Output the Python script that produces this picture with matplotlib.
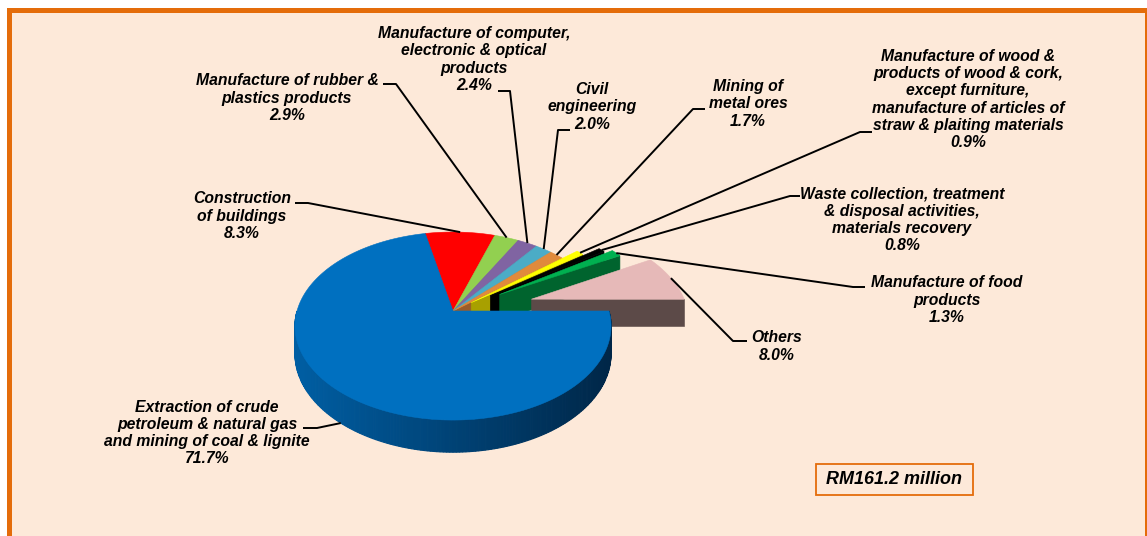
import numpy as np
import matplotlib
matplotlib.use('Agg')
import matplotlib.pyplot as plt
from matplotlib.patches import Polygon, Rectangle

plt.rcParams['font.family'] = ['Liberation Sans', 'DejaVu Sans']

# data (share of total, %)
labels = [
    'Extraction of crude\npetroleum & natural gas\nand mining of coal & lignite',
    'Construction\nof buildings',
    'Manufacture of rubber &\nplastics products',
    'Manufacture of computer,\nelectronic & optical\nproducts',
    'Civil\nengineering',
    'Mining of\nmetal ores',
    'Manufacture of wood &\nproducts of wood & cork,\nexcept furniture,\nmanufacture of articles of\nstraw & plaiting materials',
    'Waste collection, treatment\n& disposal activities,\nmaterials recovery',
    'Manufacture of food\nproducts',
    'Others',
]
shares = [71.7, 8.3, 2.9, 2.4, 2.0, 1.7, 0.9, 0.8, 1.3, 8.0]
total_text = 'RM161.2 million'

top_colors = ['#0070C0', '#FF0000', '#92D050', '#8064A2', '#4BACC6', '#E08A3C',
              '#FFFF00', '#000000', '#00B050', '#E6B9B8']
side_colors = ['#00406F', '#A00000', '#5E8A30', '#4F3D66', '#2E6F80', '#9A5C2A',
               '#A8A000', '#000000', '#00642E', '#5C4A48']
explode = [0, 0, 0, 0, 0, 0, 0.15, 0.30, 0.36, 0.53]

# label layout: text centre, text end point, elbow point
label_pos = [(207, 433), (242, 216), (287, 98), (474, 59.5), (592, 107),
             (748, 104), (968, 99.5), (902, 220), (947, 300), (777, 346.5)]
text_end = [(303, 428), (295, 203), (383, 84), (498, 91), (570, 130),
            (705, 109), (872, 132), (800, 196), (865, 287), (747, 341)]
elbows = [(317, 428), (308, 203), (396, 84), (510, 91), (558, 130),
          (693, 109), (860, 132), (790, 196), (853, 287), (733, 341)]

W, H = 1147, 536
BG = '#FDE9D9'
ORANGE = '#E46C0A'

# pie projection (pixels)
cx, cy = 453, 311
sx, sy = 156, 91.6
persp = 0.16
depth = 27


def proj(u, v, z=0.0):
    w = 1 + persp * v
    return cx + sx * u / w, cy - sy * v / w + depth * z / w


def side_color(x):
    # blue side gets darker from left to right
    t = np.clip((x - 295) / 316, 0, 1)
    c0 = np.array([0.0, 0.37, 0.64])
    c1 = np.array([0.0, 0.15, 0.28])
    return tuple(c0 + (c1 - c0) * t)


fig = plt.figure(figsize=(W / 100, H / 100), dpi=100)
fig.patch.set_facecolor('white')
ax = fig.add_axes([0, 0, 1, 1])
ax.set_xlim(0, W)
ax.set_ylim(H, 0)
ax.axis('off')

ax.add_patch(Rectangle((8.5, 9.5), 1138, 600, fc=BG, ec=ORANGE, lw=3.6, zorder=0))

# slice angles (counter-clockwise degrees), first slice ends at 0 going clockwise
cum = np.cumsum([0] + shares)
slices = []
for i in range(len(shares)):
    a2 = 360 - cum[i] * 3.6
    a1 = 360 - cum[i + 1] * 3.6
    slices.append((a1, a2))

order = sorted(range(len(shares)),
               key=lambda i: -np.sin(np.radians((slices[i][0] + slices[i][1]) / 2)))

anchors = {}
for i in order:
    a1, a2 = slices[i]
    mid = np.radians((a1 + a2) / 2)
    ox, oy = explode[i] * np.cos(mid), explode[i] * np.sin(mid)
    ts = np.radians(np.linspace(a1, a2, max(int(a2 - a1) * 2, 8)))

    # radial faces
    for a, vis in ((a1, np.cos(np.radians(a1)) > 0), (a2, np.cos(np.radians(a2)) < 0)):
        if not vis:
            continue
        r = np.radians(a)
        pts = [proj(ox, oy, 0), proj(ox + np.cos(r), oy + np.sin(r), 0),
               proj(ox + np.cos(r), oy + np.sin(r), 1), proj(ox, oy, 1)]
        ax.add_patch(Polygon(pts, closed=True, fc=side_colors[i], ec=side_colors[i], lw=0.4, zorder=2))

    # outer side (front half only)
    lo, hi = max(a1, 180), min(a2, 360)
    if lo < hi:
        edges = np.radians(np.linspace(lo, hi, 181))
        for t0, t1 in zip(edges[:-1], edges[1:]):
            pts = [proj(ox + np.cos(t0), oy + np.sin(t0), 0), proj(ox + np.cos(t1), oy + np.sin(t1), 0),
                   proj(ox + np.cos(t1), oy + np.sin(t1), 1), proj(ox + np.cos(t0), oy + np.sin(t0), 1)]
            col = side_color(pts[0][0]) if i == 0 else side_colors[i]
            ax.add_patch(Polygon(pts, closed=True, fc=col, ec=col, lw=0.8, zorder=2))

    # top face
    pts = [proj(ox, oy, 0)] + [proj(ox + np.cos(t), oy + np.sin(t), 0) for t in ts]
    ax.add_patch(Polygon(pts, closed=True, fc=top_colors[i], ec=top_colors[i], lw=0.4, zorder=2))

    if i == 0:
        anchors[i] = proj(ox + np.cos(mid), oy + np.sin(mid), 1)
    else:
        anchors[i] = proj(ox + np.cos(mid), oy + np.sin(mid), 0)

# labels and leader lines
for i in range(len(shares)):
    ax.text(label_pos[i][0], label_pos[i][1], f'{labels[i]}\n{shares[i]:.1f}%',
            ha='center', va='center', multialignment='center', fontsize=11.3,
            fontweight='bold', fontstyle='italic', linespacing=1.18, zorder=4)
    xs = [text_end[i][0], elbows[i][0], anchors[i][0]]
    ys = [text_end[i][1], elbows[i][1], anchors[i][1]]
    ax.plot(xs, ys, color='black', lw=1.4, zorder=3, solid_capstyle='butt')

ax.add_patch(Rectangle((816, 464), 157, 31, fc=BG, ec=ORANGE, lw=1.3, zorder=4))
ax.text(894.5, 480, total_text, ha='center', va='center', fontsize=13,
        fontweight='bold', fontstyle='italic', zorder=5)

fig.savefig('out.png', dpi=100, facecolor='white')
